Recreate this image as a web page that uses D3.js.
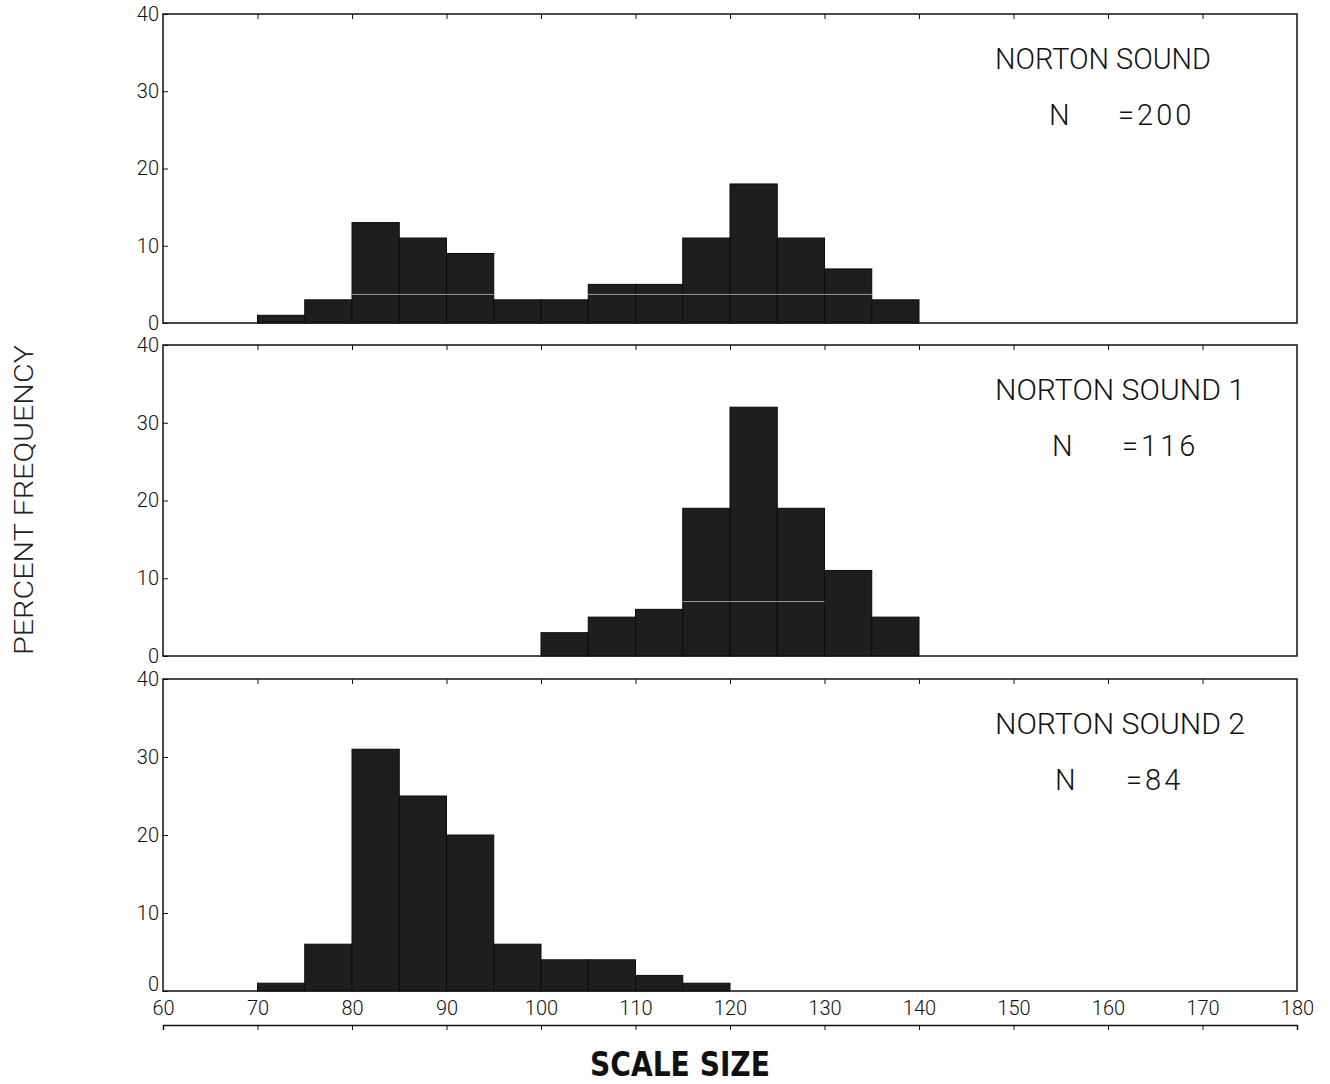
<!DOCTYPE html>
<html>
<head>
<meta charset="utf-8">
<script src="https://cdn.jsdelivr.net/npm/d3@7"></script>
<style>
  body { margin: 0; background: #fff; }
  svg { display: block; }
  .tick line, .domain { stroke: #111; }
</style>
</head>
<body>
<svg id="svg" width="1330" height="1084"></svg>
<script>
// bin starts (5 unit bins) and percent frequency for each panel
var binStarts = [70, 75, 80, 85, 90, 95, 100, 105, 110, 115, 120, 125, 130, 135];
var allValues = [1, 3, 13, 11, 9, 3, 3, 5, 5, 11, 18, 11, 7, 3];
var sub1Starts = [100, 105, 110, 115, 120, 125, 130, 135];
var sub1Values = [3, 5, 6, 19, 32, 19, 11, 5];
var sub2Starts = [70, 75, 80, 85, 90, 95, 100, 105, 110, 115];
var sub2Values = [1, 6, 31, 25, 20, 6, 4, 4, 2, 1];

// faint light seams left by the pen inside the filled bars (from, to, level)
var allSeams = [[80, 95, 3.7], [105, 135, 3.7]];
var sub1Seams = [[115, 130, 7]];
var sub2Seams = [];

var panelNames = ["NORTON SOUND", "NORTON SOUND 1", "NORTON SOUND 2"];
var panelN = ["=200", "=116", "=84"];
var xTicks = [60, 70, 80, 90, 100, 110, 120, 130, 140, 150, 160, 170, 180];
var yTicks = [0, 10, 20, 30, 40];
var binWidth = 5;

var panels = [
  { name: panelNames[0], n: panelN[0], starts: binStarts, values: allValues, seams: allSeams },
  { name: panelNames[1], n: panelN[1], starts: sub1Starts, values: sub1Values, seams: sub1Seams },
  { name: panelNames[2], n: panelN[2], starts: sub2Starts, values: sub2Values, seams: sub2Seams },
];

var svg = d3.select("#svg");
var left = 163, right = 1297;
var tops = [14, 345, 679];
var bottoms = [323, 656, 991];

var xScale = d3.scaleLinear().domain([60, 180]).range([left, right]);

var lightFont = "Roboto, 'DejaVu Sans', sans-serif";

panels.forEach(function (p, i) {
  var yScale = d3.scaleLinear().domain([0, 40]).range([bottoms[i], tops[i]]);
  var g = svg.append("g");

  // bars
  g.selectAll("rect.bar")
    .data(p.values)
    .enter()
    .append("rect")
    .attr("class", "bar")
    .attr("x", function (d, j) { return xScale(p.starts[j]); })
    .attr("width", function (d, j) {
      return xScale(p.starts[j] + binWidth) - xScale(p.starts[j]);
    })
    .attr("y", function (d) { return yScale(d); })
    .attr("height", function (d) { return yScale(0) - yScale(d); })
    .attr("fill", "#1e1e1e")
    .attr("stroke", "#0a0a0a")
    .attr("stroke-width", 1);

  // light seams
  g.selectAll("line.seam")
    .data(p.seams)
    .enter()
    .append("line")
    .attr("class", "seam")
    .attr("x1", function (d) { return xScale(d[0]); })
    .attr("x2", function (d) { return xScale(d[1]); })
    .attr("y1", function (d) { return yScale(d[2]); })
    .attr("y2", function (d) { return yScale(d[2]); })
    .attr("stroke", "#9a9a9a")
    .attr("stroke-width", 1);

  // frame
  g.append("rect")
    .attr("x", left)
    .attr("y", tops[i])
    .attr("width", right - left)
    .attr("height", bottoms[i] - tops[i])
    .attr("fill", "none")
    .attr("stroke", "#111")
    .attr("stroke-width", 1.5);

  // left axis, ticks pointing inward
  var yAxis = g.append("g")
    .attr("transform", "translate(" + left + ",0)")
    .call(d3.axisLeft(yScale).tickValues(yTicks).tickSize(-5).tickPadding(4));
  yAxis.select(".domain").remove();
  yAxis.selectAll("text")
    .attr("font-family", lightFont)
    .attr("font-weight", 300)
    .attr("font-size", 20)
    .attr("fill", "#111")
    .attr("dy", function (d) { return (i === 2 && d === 0) ? "-0.05em" : "0.32em"; });

  // top ticks
  var topAxis = g.append("g")
    .attr("transform", "translate(0," + tops[i] + ")")
    .call(d3.axisTop(xScale).tickValues(xTicks.slice(1, -1)).tickSize(-5).tickFormat(""));
  topAxis.select(".domain").remove();

  // panel labels
  g.append("text")
    .attr("x", 995)
    .attr("y", tops[i] + 55)
    .attr("font-family", lightFont)
    .attr("font-weight", 300)
    .attr("font-size", 29)
    .attr("fill", "#111")
    .attr("textLength", i === 0 ? 216 : 250)
    .attr("lengthAdjust", "spacingAndGlyphs")
    .text(p.name);
  g.append("text")
    .attr("x", 1049 + i * 3)
    .attr("y", tops[i] + 111)
    .attr("font-family", lightFont)
    .attr("font-weight", 300)
    .attr("font-size", 29)
    .attr("fill", "#111")
    .text("N");
  g.append("text")
    .attr("x", 1118 + i * 4)
    .attr("y", tops[i] + 111)
    .attr("font-family", lightFont)
    .attr("font-weight", 300)
    .attr("font-size", 29)
    .attr("letter-spacing", 3)
    .attr("fill", "#111")
    .text(p.n);
});

// x tick labels under the bottom panel
var xLabels = svg.append("g")
  .attr("transform", "translate(0," + bottoms[2] + ")")
  .call(d3.axisBottom(xScale).tickValues(xTicks).tickSize(0).tickPadding(10));
xLabels.select(".domain").remove();
xLabels.selectAll("text")
  .attr("font-family", lightFont)
  .attr("font-weight", 300)
  .attr("font-size", 20)
  .attr("fill", "#111");

// separate scale line below the labels
svg.append("g")
  .attr("transform", "translate(0,1025)")
  .call(d3.axisBottom(xScale).tickValues(xTicks).tickSize(5).tickSizeOuter(5).tickFormat(""))
  .select(".domain")
  .attr("stroke-width", 1.5);

// axis titles
svg.append("text")
  .attr("transform", "translate(33,500) rotate(-90)")
  .attr("text-anchor", "middle")
  .attr("font-family", lightFont)
  .attr("font-weight", 300)
  .attr("font-size", 26)
  .attr("fill", "#222")
  .attr("textLength", 310)
  .attr("lengthAdjust", "spacingAndGlyphs")
  .text("PERCENT FREQUENCY");

svg.append("text")
  .attr("x", 680)
  .attr("y", 1076)
  .attr("text-anchor", "middle")
  .attr("font-family", "'DejaVu Sans Condensed', 'DejaVu Sans', sans-serif")
  .attr("font-weight", "bold")
  .attr("font-size", 33)
  .attr("fill", "#111")
  .attr("textLength", 180)
  .attr("lengthAdjust", "spacingAndGlyphs")
  .text("SCALE SIZE");
</script>
</body>
</html>
